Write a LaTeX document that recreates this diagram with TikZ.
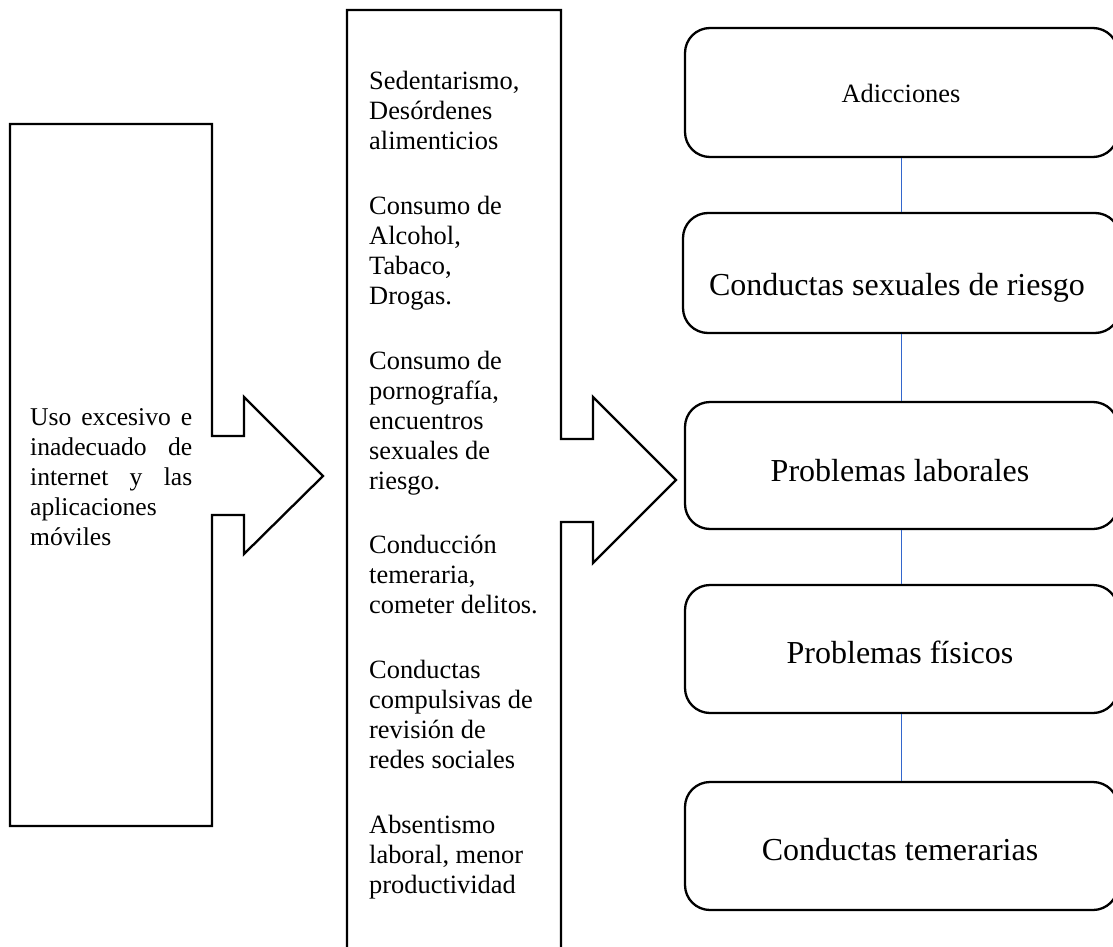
\documentclass[tikz,border=0pt]{standalone}
\usepackage{fontspec}
\setmainfont{Liberation Serif}
\definecolor{linkblue}{HTML}{3366CC}
\newcommand{\smalltext}{\fontsize{26.4}{30}\selectfont}
\newcommand{\lefttext}{\fontsize{25.6}{30}\selectfont}
\newcommand{\bigtext}{\fontsize{32}{36}\selectfont}
\begin{document}
\begin{tikzpicture}[x=1pt,y=-1pt,
  outline/.style={draw=black, line width=2.3pt, line join=miter, fill=white},
  rbox/.style={draw=black, line width=2.3pt, rounded corners=25pt, fill=white,
    minimum width=433pt, minimum height=#1, inner sep=0pt},
  link/.style={draw=linkblue, line width=1.8pt},
  txt/.style={inner sep=0pt}]
\path[use as bounding box, fill=white] (0,0) rectangle (1113,947);

% first notched arrow
\draw[outline] (10,124) -- (212,124) -- (212,436) -- (244,436) -- (244,397)
  -- (323,476) -- (244,554) -- (244,515) -- (212,515) -- (212,826) -- (10,826) -- cycle;
\node[txt, anchor=base west] (cause) at (30,425) {\parbox[t]{162pt}{\lefttext
  \makebox[162pt][s]{Uso excesivo e}\\
  \makebox[162pt][s]{inadecuado de}\\
  \makebox[162pt][s]{internet y las}\\
  aplicaciones\\
  móviles}};

% second notched arrow
\draw[outline] (347,970) -- (347,10) -- (561,10) -- (561,439) -- (593,439) -- (593,397)
  -- (676,480) -- (593,563) -- (593,522) -- (561,522) -- (561,970) -- cycle;
\node[txt, anchor=base west] (effects) at (369,90) {\parbox[t]{190pt}{\raggedright\smalltext
  Sedentarismo,\\ Desórdenes\\ alimenticios\\[34.6pt]
  Consumo de\\ Alcohol,\\ Tabaco,\\ Drogas.\\[34.6pt]
  Consumo de\\ pornografía,\\ encuentros\\ sexuales de\\ riesgo.\\[34.6pt]
  Conducción\\ temeraria,\\ cometer delitos.\\[34.6pt]
  Conductas\\ compulsivas de\\ revisión de\\ redes sociales\\[34.6pt]
  Absentismo\\ laboral, menor\\ productividad}};

% consequence boxes
\node[rbox=129pt] (b1) at (901.5,92.5) {};
\node[rbox=120pt, minimum width=437pt] (b2) at (901.5,273) {};
\node[rbox=127pt] (b3) at (901.5,465.5) {};
\node[rbox=128pt] (b4) at (901.5,649) {};
\node[rbox=128pt] (b5) at (901.5,846) {};

\node[txt, anchor=base, font=\smalltext] (t1) at (901,103) {Adicciones};
\node[txt, anchor=base, font=\bigtext] (t2) at (897,295) {Conductas sexuales de riesgo};
\node[txt, anchor=base, font=\bigtext] (t3) at (900,481) {Problemas laborales};
\node[txt, anchor=base, font=\bigtext] (t4) at (900,663) {Problemas físicos};
\node[txt, anchor=base, font=\bigtext] (t5) at (900,860) {Conductas temerarias};

% links between boxes
\draw[link] (b1.south) -- (b2.north);
\draw[link] (b2.south) -- (b3.north);
\draw[link] (b3.south) -- (b4.north);
\draw[link] (b4.south) -- (b5.north);
\end{tikzpicture}
\end{document}
